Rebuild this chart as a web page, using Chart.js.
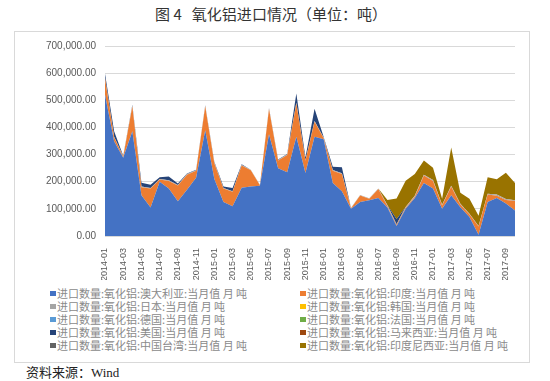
<!DOCTYPE html>
<html><head><meta charset="utf-8">
<script src="https://cdn.jsdelivr.net/npm/chart.js@4.4.1/dist/chart.umd.min.js"></script>
<style>
html,body{margin:0;padding:0;background:#fff;width:550px;height:381px;overflow:hidden;}
#title{position:absolute;left:0;width:542px;top:3px;text-align:center;font-family:"Noto Sans CJK SC";font-size:15px;font-weight:400;color:#333;line-height:22px;white-space:pre;}
#frame{position:absolute;left:14px;top:31px;width:516px;height:332px;border:1px solid #d9d9d9;box-sizing:border-box;}
#c{position:absolute;left:0;top:0;}
.lg{position:absolute;font-family:"Noto Sans CJK SC";font-size:11px;color:#8a8a8a;white-space:pre;line-height:13px;}
.lg i{position:absolute;left:-7px;top:4px;width:6px;height:5px;}
#src{position:absolute;left:26px;top:364px;font-family:"Liberation Serif","Noto Sans CJK SC";font-size:13px;color:#222;line-height:17px;}
</style></head>
<body>
<div id="title">图 4   氧化铝进口情况（单位：吨）</div>
<div id="frame"></div>
<canvas id="c" width="550" height="280"></canvas>
<div id="legend"></div>
<div id="src">资料来源：Wind</div>
<script>
const months = ["2014-01","2014-02","2014-03","2014-04","2014-05","2014-06","2014-07","2014-08","2014-09","2014-10","2014-11","2014-12",
"2015-01","2015-02","2015-03","2015-04","2015-05","2015-06","2015-07","2015-08","2015-09","2015-10","2015-11","2015-12",
"2016-01","2016-02","2016-03","2016-04","2016-05","2016-06","2016-07","2016-08","2016-09","2016-10","2016-11","2016-12",
"2017-01","2017-02","2017-03","2017-04","2017-05","2017-06","2017-07","2017-08","2017-09","2017-10"];

const seriesNames = [
"进口数量:氧化铝:澳大利亚:当月值 月 吨",
"进口数量:氧化铝:印度:当月值 月 吨",
"进口数量:氧化铝:日本:当月值 月 吨",
"进口数量:氧化铝:韩国:当月值 月 吨",
"进口数量:氧化铝:德国:当月值 月 吨",
"进口数量:氧化铝:法国:当月值 月 吨",
"进口数量:氧化铝:美国:当月值 月 吨",
"进口数量:氧化铝:马来西亚:当月值 月 吨",
"进口数量:氧化铝:中国台湾:当月值 月 吨",
"进口数量:氧化铝:印度尼西亚:当月值 月 吨"];

const australia = [520000,349000,288000,386000,150000,105000,200000,175000,128000,170000,215000,390000,
210000,125000,110000,178000,182000,185000,375000,250000,235000,366000,232000,366000,
356000,195000,165000,100000,125000,132000,140000,105000,37000,100000,140000,195000,
175000,100000,150000,106000,70000,5000,125000,140000,120000,94000];
const india = [60000,15000,4000,92000,30000,70000,8000,28000,58000,56000,25000,88000,
58000,50000,53000,82000,60000,2000,93000,28000,63000,122000,45000,55000,
4000,45000,63000,2000,24000,5000,33000,5000,4000,4000,5000,28000,
28000,12000,32000,10000,10000,30000,28000,8000,13000,35000];
const japan = [3000,2000,2000,3000,2000,2000,2000,2000,2000,2000,2000,2000,
3000,2000,2000,2000,2000,2000,2000,2000,2000,3000,2000,3000,
2000,3000,3000,2000,2000,2000,2000,3000,2000,3000,3000,3000,
3000,3000,3000,3000,2000,2000,3000,5000,3000,3000];
const korea = [0,0,0,0,0,0,0,0,0,0,0,0,0,0,0,0,0,0,0,0,0,0,0,0,0,0,0,0,0,0,0,0,0,0,0,0,0,0,0,0,0,0,0,0,0,0];
const germany = [0,0,0,0,0,0,0,0,0,0,0,0,0,0,0,0,0,0,0,0,0,0,0,0,0,0,0,0,0,0,0,0,0,0,0,0,0,0,0,0,0,0,0,0,0,0];
const france = [0,0,0,0,0,0,0,0,0,0,0,0,0,0,0,0,0,0,0,0,0,0,0,0,0,0,0,0,0,0,0,0,0,0,0,0,0,0,0,0,0,0,0,0,0,0];
const usa = [15000,20000,2000,3000,14000,12000,6000,14000,5000,2000,2000,2000,
3000,5000,12000,2000,0,0,2000,2000,2000,34000,10000,45000,
3000,12000,22000,0,0,0,0,0,20000,0,0,0,
0,0,0,0,0,0,0,0,0,0];
const malaysia = [0,0,0,0,0,0,0,0,0,0,0,0,0,0,0,0,0,0,0,0,0,0,0,0,0,0,0,0,0,0,0,0,0,0,0,0,0,0,0,0,0,0,0,0,0,0];
const taiwan = [0,0,0,0,0,0,0,0,0,0,0,0,0,0,0,0,0,0,0,0,0,0,0,0,0,0,0,0,0,0,0,0,0,0,0,0,0,0,0,0,0,0,0,0,0,0];
const indonesia = [0,0,0,0,0,0,0,0,0,0,0,0,
0,0,0,0,0,0,0,0,0,0,0,0,
0,0,0,0,0,0,0,20000,75000,97000,80000,52000,
45000,22000,141000,40000,55000,38000,60000,56000,97000,63000];

const colors = ["#4472C4","#ED7D31","#A5A5A5","#FFC000","#5B9BD5","#70AD47","#264478","#9E480E","#636363","#997300"];
const seriesValues = [australia,india,japan,korea,germany,france,usa,malaysia,taiwan,indonesia];

const datasets = seriesNames.map((name,k)=>({
  label:name, data:seriesValues[k], backgroundColor:colors[k], borderColor:'rgba(0,0,0,0)',
  borderWidth:0, pointRadius:0, pointHoverRadius:0, tension:0, fill: k===0 ? 'origin' : '-1'
}));

new Chart(document.getElementById('c'), {
  type:'line',
  data:{labels:months, datasets:datasets},
  options:{
    responsive:false, animation:false,
    layout:{padding:{left:0,right:35,top:46,bottom:0}},
    plugins:{legend:{display:false}, tooltip:{enabled:false}},
    scales:{
      x:{
        grid:{display:false}, border:{display:false},
        ticks:{autoSkip:false, minRotation:90, maxRotation:90, padding:4, color:'#595959',
          font:{family:'Liberation Sans', size:9},
          callback:(v,i)=> i%2===0 ? months[i] : ''},
        afterFit:s=>{s.height=44;}
      },
      y:{
        stacked:true, min:0, max:700000,
        grid:{color:'#d9d9d9', drawTicks:false}, border:{display:false},
        ticks:{stepSize:100000, padding:9, color:'#595959', font:{family:'Liberation Sans', size:10},
          callback:v=> v.toLocaleString('en-US',{minimumFractionDigits:2, maximumFractionDigits:2})},
        afterFit:s=>{s.width=105;}
      }
    }
  }
});

const lg = document.getElementById('legend');
seriesNames.forEach((name,k)=>{
  const col = k%2, row = Math.floor(k/2);
  const d = document.createElement('div');
  d.className='lg';
  d.style.left = (col? 307 : 57)+'px';
  d.style.top = (287 + row*13)+'px';
  d.textContent = name;
  const m = document.createElement('i');
  m.style.background = colors[k];
  d.appendChild(m);
  lg.appendChild(d);
});
</script>
</body></html>
